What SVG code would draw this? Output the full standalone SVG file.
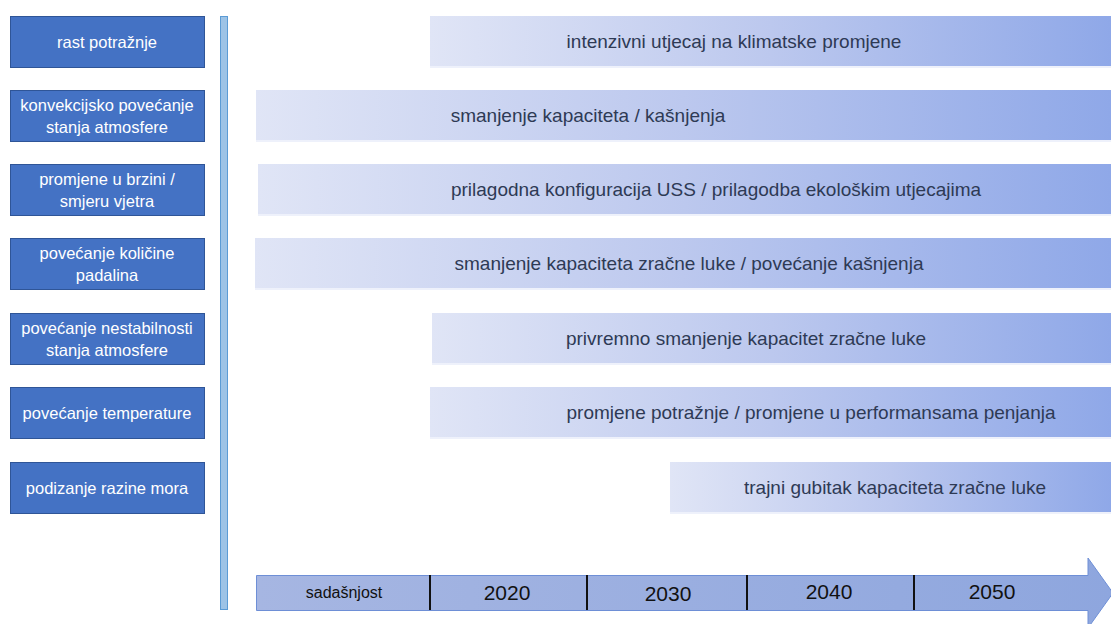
<svg xmlns="http://www.w3.org/2000/svg" width="1111" height="624" viewBox="0 0 1111 624">
<defs>
<linearGradient id="bar" x1="0" y1="0" x2="1" y2="0">
<stop offset="0" stop-color="#E0E5F6"/>
<stop offset="0.5" stop-color="#BCC8EE"/>
<stop offset="1" stop-color="#8FA8E8"/>
</linearGradient>
<linearGradient id="tl" x1="0" y1="0" x2="1" y2="0">
<stop offset="0" stop-color="#A6B6E2"/>
<stop offset="1" stop-color="#8EA6DE"/>
</linearGradient>
<style>
.cause rect{fill:#4472C4;stroke:#2F5597;stroke-width:1}
.cause text{fill:#FFFFFF;font-family:"Liberation Sans","Noto Sans",sans-serif;font-size:16.5px;text-anchor:middle}
.effect rect{fill:url(#bar)}
.effect line{stroke:#EEF1FB;stroke-width:2}
.effect text{fill:#2E3A55;font-family:"Liberation Sans","Noto Sans",sans-serif;font-size:19px;text-anchor:middle}
.tick{stroke:#111;stroke-width:2}
.yr{fill:#111;font-family:"Liberation Sans","Noto Sans",sans-serif;font-size:21px;text-anchor:middle}
</style>
</defs>
<rect width="1111" height="624" fill="#FFFFFF"/>
<g id="causes">
<g id="c1" class="cause"><rect x="10.5" y="16.5" width="194" height="51"/><text x="107" y="48">rast potražnje</text></g>
<g id="c2" class="cause"><rect x="10.5" y="90.5" width="194" height="51"/><text x="107" y="111">konvekcijsko povećanje</text><text x="107" y="133">stanja atmosfere</text></g>
<g id="c3" class="cause"><rect x="10.5" y="164.5" width="194" height="51"/><text x="107" y="185">promjene u brzini /</text><text x="107" y="207">smjeru vjetra</text></g>
<g id="c4" class="cause"><rect x="10.5" y="238.5" width="194" height="51"/><text x="107" y="259">povećanje količine</text><text x="107" y="281">padalina</text></g>
<g id="c5" class="cause"><rect x="10.5" y="313.5" width="194" height="51"/><text x="107" y="334">povećanje nestabilnosti</text><text x="107" y="356">stanja atmosfere</text></g>
<g id="c6" class="cause"><rect x="10.5" y="387.5" width="194" height="51"/><text x="107" y="419">povećanje temperature</text></g>
<g id="c7" class="cause"><rect x="10.5" y="462.5" width="194" height="51"/><text x="107" y="494">podizanje razine mora</text></g>
</g>
<g id="divider"><rect x="220.5" y="16.5" width="7" height="593" fill="#9DC3E6" stroke="#5B9BD5" stroke-width="1"/></g>
<g id="effects">
<g id="e1" class="effect"><rect x="430" y="16" width="681" height="51"/><line x1="430" y1="67" x2="1111" y2="67"/><text x="734" y="48">intenzivni utjecaj na klimatske promjene</text></g>
<g id="e2" class="effect"><rect x="256" y="90" width="855" height="51"/><line x1="256" y1="141" x2="1111" y2="141"/><text x="588" y="122">smanjenje kapaciteta / kašnjenja</text></g>
<g id="e3" class="effect"><rect x="258" y="164" width="853" height="51"/><line x1="258" y1="215" x2="1111" y2="215"/><text x="716" y="196">prilagodna konfiguracija USS / prilagodba ekološkim utjecajima</text></g>
<g id="e4" class="effect"><rect x="255" y="238" width="856" height="51"/><line x1="255" y1="289" x2="1111" y2="289"/><text x="689" y="270">smanjenje kapaciteta zračne luke / povećanje kašnjenja</text></g>
<g id="e5" class="effect"><rect x="432" y="313" width="679" height="51"/><line x1="432" y1="364" x2="1111" y2="364"/><text x="746" y="345">privremno smanjenje kapacitet zračne luke</text></g>
<g id="e6" class="effect"><rect x="430" y="387" width="681" height="51"/><line x1="430" y1="438" x2="1111" y2="438"/><text x="811" y="419">promjene potražnje / promjene u performansama penjanja</text></g>
<g id="e7" class="effect"><rect x="670" y="462" width="441" height="51"/><line x1="670" y1="513" x2="1111" y2="513"/><text x="895" y="494">trajni gubitak kapaciteta zračne luke</text></g>
</g>
<g id="timeline">
<path d="M256.5,575.5 H1088 V558 L1113,593 L1088,628 V610.5 H256.5 Z" fill="url(#tl)" stroke="#6E8FD6" stroke-width="1"/>
<line class="tick" x1="430" y1="575" x2="430" y2="610"/>
<line class="tick" x1="587" y1="575" x2="587" y2="610"/>
<line class="tick" x1="747" y1="575" x2="747" y2="610"/>
<line class="tick" x1="914" y1="575" x2="914" y2="610"/>
<text x="344" y="598" fill="#111" font-family="Liberation Sans, Noto Sans, sans-serif" font-size="16" text-anchor="middle">sadašnjost</text>
<text class="yr" x="507" y="600">2020</text>
<text class="yr" x="668" y="601">2030</text>
<text class="yr" x="829" y="599">2040</text>
<text class="yr" x="992" y="599">2050</text>
</g>
</svg>
